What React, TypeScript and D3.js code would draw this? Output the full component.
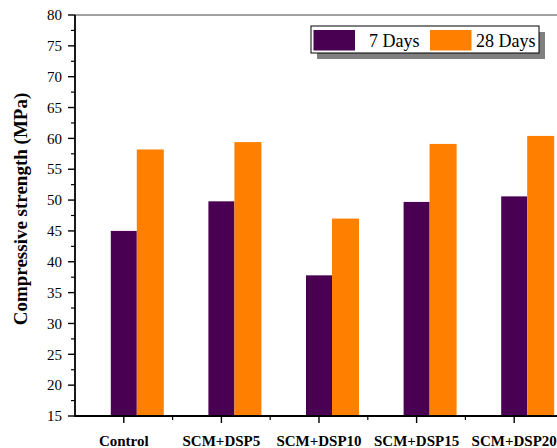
import React from "react";
import * as d3 from "d3";

const categories = ["Control", "SCM+DSP5", "SCM+DSP10", "SCM+DSP15", "SCM+DSP20"];
const days7 = [45.0, 49.8, 37.8, 49.7, 50.6];
const days28 = [58.2, 59.4, 47.0, 59.1, 60.4];
const yTicks = [15, 20, 25, 30, 35, 40, 45, 50, 55, 60, 65, 70, 75, 80];
const seriesNames = ["7 Days", "28 Days"];
const seriesColors = ["#4a0052", "#ff8000"];

const W = 557;
const H = 448;
const left = 75;
const top = 15;
const bottom = 416;

const serif = '"Liberation Serif", "Times New Roman", Times, "DejaVu Serif", serif';

export default function App() {
  const x = d3.scaleBand<string>().domain(categories).range([left, left + 5 * 97.6]).padding(0);
  const y = d3.scaleLinear().domain([15, 80]).range([bottom, top]);
  const minorY = d3.range(17.5, 80, 5);
  const bw = 26;

  return (
    <svg width={W} height={H} style={{ position: "absolute", left: 0, top: 0, background: "#fff", fontFamily: serif }}>
      {/* bars: 7-day bar centred on the tick, 28-day bar to its right */}
      {categories.map((c, i) => {
        const cx = x(c)! + x.bandwidth() / 2;
        return (
          <g key={c}>
            <rect x={cx - bw / 2} y={y(days7[i])} width={bw} height={bottom - y(days7[i])} fill={seriesColors[0]} />
            <rect x={cx + bw / 2} y={y(days28[i])} width={bw + 1} height={bottom - y(days28[i])} fill={seriesColors[1]} />
          </g>
        );
      })}

      {/* top frame line */}
      <line x1={left} x2={W} y1={top} y2={top} stroke="#444" strokeWidth={1.2} />

      {/* y axis */}
      <line x1={left} x2={left} y1={top} y2={bottom + 1} stroke="#000" strokeWidth={1.8} />
      {yTicks.map((t) => (
        <g key={t}>
          <line x1={left - 7} x2={left} y1={y(t)} y2={y(t)} stroke="#000" strokeWidth={1.4} />
          <text x={left - 13} y={y(t)} dy="0.35em" textAnchor="end" fontSize={15} style={{ fontFamily: serif }}>
            {t}
          </text>
        </g>
      ))}
      {minorY.map((t) => (
        <line key={t} x1={left - 4} x2={left} y1={y(t)} y2={y(t)} stroke="#000" strokeWidth={1.2} />
      ))}

      {/* x axis */}
      <line x1={left} x2={W} y1={bottom} y2={bottom} stroke="#000" strokeWidth={1.8} />
      {categories.map((c) => {
        const cx = x(c)! + x.bandwidth() / 2;
        return (
          <g key={c}>
            <line x1={cx} x2={cx} y1={bottom} y2={bottom + 7} stroke="#000" strokeWidth={1.4} />
            <text x={cx} y={446} textAnchor="middle" fontSize={15} fontWeight="bold" style={{ fontFamily: serif }}>
              {c}
            </text>
          </g>
        );
      })}
      {categories.slice(1).map((c) => (
        <line key={c} x1={x(c)!} x2={x(c)!} y1={bottom} y2={bottom + 4} stroke="#000" strokeWidth={1.2} />
      ))}

      {/* y axis title */}
      <text
        transform="translate(27, 209) rotate(-90)"
        textAnchor="middle"
        fontSize={19}
        fontWeight="bold"
        style={{ fontFamily: serif }}
      >
        Compressive strength (MPa)
      </text>

      {/* legend with drop shadow */}
      <rect x={317} y={32} width={228} height={27} fill="#808080" />
      <rect x={311} y={26} width={228} height={27} fill="#fff" stroke="#000" strokeWidth={1} />
      <rect x={313.5} y={30} width={41.5} height={20.5} fill={seriesColors[0]} />
      <text x={369} y={47} fontSize={18} style={{ fontFamily: serif }}>{seriesNames[0]}</text>
      <rect x={430} y={30} width={41.5} height={20.5} fill={seriesColors[1]} />
      <text x={476} y={47} fontSize={18} style={{ fontFamily: serif }}>{seriesNames[1]}</text>
    </svg>
  );
}
